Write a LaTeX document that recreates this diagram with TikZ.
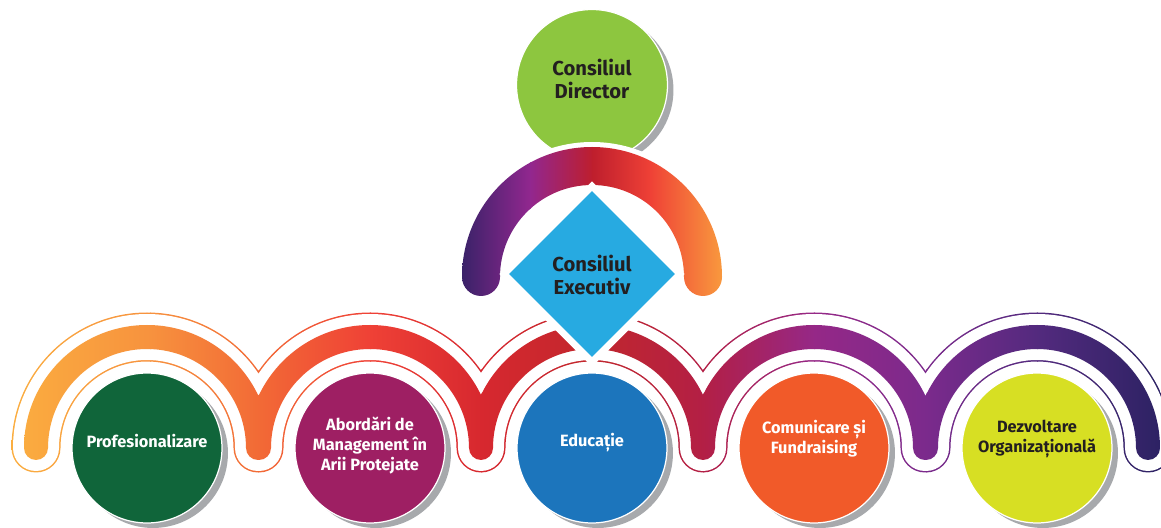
\documentclass[tikz,border=0pt]{standalone}
\usepackage{fontspec}
\setmainfont{Fira Sans}
\usetikzlibrary{shapes.geometric}

\definecolor{topgreen}{HTML}{8DC63F}
\definecolor{execblue}{HTML}{27AAE1}
\definecolor{darkink}{HTML}{231F20}
\definecolor{shadowgrey}{HTML}{A7A9AC}
\definecolor{profgreen}{HTML}{10653A}
\definecolor{abordpurple}{HTML}{9E1F63}
\definecolor{educblue}{HTML}{1C75BC}
\definecolor{comorange}{HTML}{F15A29}
\definecolor{dezvlime}{HTML}{D7DF23}
% gradient stops of the lower band
\definecolor{lowA}{HTML}{FBB040}
\definecolor{lowB}{HTML}{F7923E}
\definecolor{lowC}{HTML}{F26A36}
\definecolor{lowD}{HTML}{EF4136}
\definecolor{lowE}{HTML}{D7282F}
\definecolor{lowF}{HTML}{C1272D}
\definecolor{lowG}{HTML}{B31F45}
\definecolor{lowH}{HTML}{952887}
\definecolor{lowI}{HTML}{7B2A8C}
\definecolor{lowJ}{HTML}{532A7E}
\definecolor{lowK}{HTML}{2C2263}
% gradient stops of the upper band
\definecolor{topA}{HTML}{2B2162}
\definecolor{topB}{HTML}{92278F}
\definecolor{topC}{HTML}{BE1E2D}
\definecolor{topD}{HTML}{EF4136}
\definecolor{topE}{HTML}{FBB040}

% half ring with round ends: centre x, centre y, radius, half width
\newcommand{\ringpath}[4]{(#1-#3-#4,#2) arc[start angle=180, end angle=0, radius=#3+#4]
  arc[start angle=0, end angle=-180, radius=#4]
  arc[start angle=0, end angle=180, radius=#3-#4]
  arc[start angle=0, end angle=-180, radius=#4] -- cycle}

\newcommand{\lowgradient}{%
  \foreach \xa/\ca/\xb/\cb in {0/lowA/150/lowB, 150/lowB/258/lowC, 258/lowC/370/lowD,
      370/lowD/481/lowE, 481/lowE/592/lowF, 592/lowF/703/lowG, 703/lowG/814/lowH,
      814/lowH/926/lowI, 926/lowI/1037/lowJ, 1037/lowJ/1161/lowK}
    \shade[left color=\ca, right color=\cb] (\xa,0) rectangle (\xb+1,330);}

\begin{document}
\begin{tikzpicture}[x=0.02cm, y=0.02cm,
  bubble/.style={circle, minimum size=3cm, inner sep=0pt, draw=white, line width=0.7pt,
    preaction={fill=shadowgrey, transform canvas={xshift=0.12cm, yshift=-0.1cm}}},
  lighttext/.style={text=white, align=center, font=\bfseries\fontsize{9.3}{11.4}\selectfont},
  darktext/.style={text=darkink, align=center, font=\bfseries\fontsize{9.3}{11.4}\selectfont},
  headtext/.style={text=darkink, align=center, font=\bfseries\fontsize{11.5}{13.5}\selectfont},
  execbox/.style={diamond, aspect=1, minimum size=3.32cm, inner sep=0pt, fill=execblue,
    preaction={draw=white, line width=0.28cm}}]

  \useasboundingbox (0,0) rectangle (1161,528);

  % lower band: thin outline, white gap, band
  \begin{scope}
    \clip foreach \cx in {147,370,592,814,1037} {\ringpath{\cx}{80}{111}{24.5}};
    \lowgradient
  \end{scope}
  \fill[white] foreach \cx in {147,370,592,814,1037} {\ringpath{\cx}{80}{111}{23}};
  \begin{scope}
    \clip foreach \cx in {147,370,592,814,1037} {\ringpath{\cx}{80}{111}{12}};
    \lowgradient
  \end{scope}

  % the five areas
  \node[bubble, fill=profgreen] (prof) at (147,80) {};
  \node[bubble, fill=abordpurple] (abord) at (370,80) {};
  \node[bubble, fill=educblue] (educ) at (592,80) {};
  \node[bubble, fill=comorange] (comun) at (814,80) {};
  \node[bubble, fill=dezvlime] (dezv) at (1037,80) {};

  % board on top
  \node[bubble, fill=topgreen, minimum size=3.02cm] (board) at (592,443) {};

  % upper band
  \fill[white] \ringpath{592}{251}{111}{24};
  \begin{scope}
    \clip \ringpath{592}{251}{111}{19};
    \foreach \xa/\ca/\xb/\cb in {450/topA/530/topB, 530/topB/592/topC, 592/topC/650/topD, 650/topD/740/topE}
      \shade[left color=\ca, right color=\cb] (\xa,220) rectangle (\xb+1,400);
  \end{scope}

  \node[execbox] (exec) at (592,254) {};

  % labels
  \node[headtext] (boardtext) at (592,449) {Consiliul\\Director};
  \node[headtext] (exectext) at (592,253) {Consiliul\\Executiv};
  \node[lighttext] (proftext) at (147,87) {Profesionalizare};
  \node[lighttext] (abordtext) at (370,82) {Abordări de\\Management în\\Arii Protejate};
  \node[lighttext] (eductext) at (592,85) {Educație};
  \node[lighttext] (comuntext) at (814,89) {Comunicare și\\Fundraising};
  \node[darktext] (dezvtext) at (1037,89) {Dezvoltare\\Organizațională};
\end{tikzpicture}
\end{document}
